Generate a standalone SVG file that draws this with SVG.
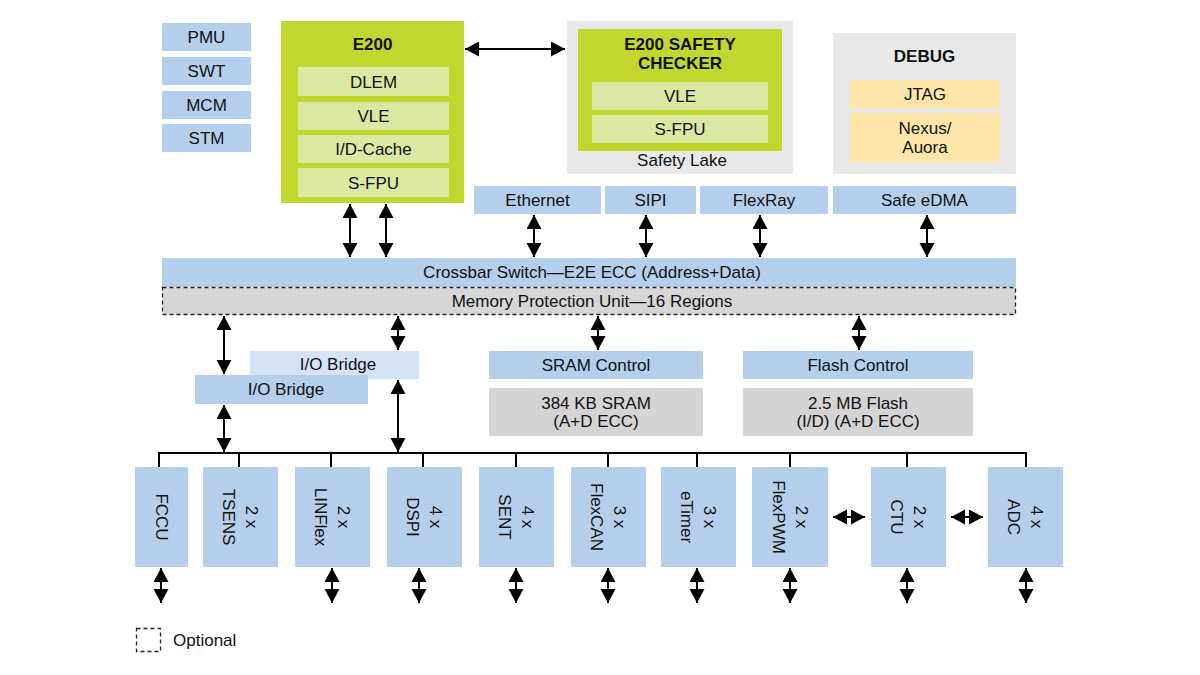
<svg xmlns="http://www.w3.org/2000/svg" width="1200" height="675" viewBox="0 0 1200 675">
<defs>
<style>
text{font-family:"Liberation Sans",Arial,sans-serif;font-size:17px;fill:#111;text-anchor:middle;dominant-baseline:central}
.b{font-weight:bold}
.blue{fill:#b4cfec}
.blue2{fill:#d3e3f5}
.green{fill:#c2d72e}
.lgreen{fill:#dbe8a2}
.lgray{fill:#e8e8e8}
.gray{fill:#d4d4d4}
.yel{fill:#fde6a7}
.arr{stroke:#000;stroke-width:2;fill:none;marker-start:url(#ah);marker-end:url(#ah)}
.ln{stroke:#000;stroke-width:2;fill:none}
</style>
<marker id="ah" markerUnits="userSpaceOnUse" markerWidth="16" markerHeight="16" refX="14" refY="7.5" orient="auto-start-reverse">
<path d="M0,0 L14,7.5 L0,15 z" fill="#000"/>
</marker>
</defs>
<rect width="1200" height="675" fill="#fff"/>

<g id="pmu"><rect class="blue" x="162" y="23" width="89" height="28"/><text x="206.5" y="37">PMU</text></g>
<g id="swt"><rect class="blue" x="162" y="57" width="89" height="28"/><text x="206.5" y="71">SWT</text></g>
<g id="mcm"><rect class="blue" x="162" y="91" width="89" height="28"/><text x="206.5" y="105">MCM</text></g>
<g id="stm"><rect class="blue" x="162" y="124" width="89" height="28"/><text x="206.5" y="138">STM</text></g>

<g id="e200">
<rect class="green" x="281" y="21" width="183" height="182"/>
<text class="b" x="372.5" y="44">E200</text>
<rect class="lgreen" x="298" y="67" width="151" height="29"/><text x="373.5" y="82">DLEM</text>
<rect class="lgreen" x="298" y="102" width="151" height="28"/><text x="373.5" y="116">VLE</text>
<rect class="lgreen" x="298" y="135" width="151" height="28"/><text x="373.5" y="149">I/D-Cache</text>
<rect class="lgreen" x="298" y="168" width="151" height="29"/><text x="373.5" y="183">S-FPU</text>
</g>

<g id="safety-lake">
<rect class="lgray" x="567" y="21" width="226" height="153"/>
<rect class="green" x="578" y="29" width="204" height="122"/>
<text class="b" x="680" y="44">E200 SAFETY</text>
<text class="b" x="680" y="63">CHECKER</text>
<rect class="lgreen" x="592" y="82" width="176" height="28"/><text x="680" y="96">VLE</text>
<rect class="lgreen" x="592" y="115" width="176" height="28"/><text x="680" y="129">S-FPU</text>
<text x="682" y="160">Safety Lake</text>
</g>

<g id="debug">
<rect class="lgray" x="833" y="33" width="183" height="141"/>
<text class="b" x="924.5" y="56">DEBUG</text>
<rect class="yel" x="850" y="80" width="150" height="28"/><text x="925" y="94">JTAG</text>
<rect class="yel" x="850" y="113" width="150" height="49"/><text x="925" y="128">Nexus/</text><text x="925" y="147">Auora</text>
</g>

<g id="ethernet"><rect class="blue" x="474" y="186" width="127" height="28"/><text x="537.5" y="200">Ethernet</text></g>
<g id="sipi"><rect class="blue" x="605" y="186" width="91" height="28"/><text x="650.5" y="200">SIPI</text></g>
<g id="flexray"><rect class="blue" x="700" y="186" width="128" height="28"/><text x="764" y="200">FlexRay</text></g>
<g id="edma"><rect class="blue" x="833" y="186" width="183" height="28"/><text x="924.5" y="200">Safe eDMA</text></g>

<g id="crossbar"><rect class="blue" x="162" y="258" width="854" height="29"/><text x="592" y="272">Crossbar Switch—E2E ECC (Address+Data)</text></g>
<g id="mpu"><rect x="162.5" y="287.5" width="853" height="27" fill="#d6d6d6" stroke="#222" stroke-width="1.3" stroke-dasharray="4,3"/><text x="592" y="301">Memory Protection Unit—16 Regions</text></g>

<g id="io-bridge-2"><rect class="blue2" x="250" y="351" width="169" height="28"/><text x="338" y="364">I/O Bridge</text></g>
<g id="io-bridge-1"><rect class="blue" x="195" y="375" width="173" height="29"/><text x="286" y="389">I/O Bridge</text></g>

<g id="sram-control"><rect class="blue" x="489" y="351" width="214" height="28"/><text x="596" y="365">SRAM Control</text></g>
<g id="sram"><rect class="gray" x="489" y="388" width="214" height="48"/><text x="596" y="403">384 KB SRAM</text><text x="596" y="421">(A+D ECC)</text></g>
<g id="flash-control"><rect class="blue" x="743" y="351" width="230" height="28"/><text x="858" y="365">Flash Control</text></g>
<g id="flash"><rect class="gray" x="743" y="388" width="230" height="48"/><text x="858" y="403">2.5 MB Flash</text><text x="858" y="421">(I/D) (A+D ECC)</text></g>

<g id="fccu"><rect class="blue" x="135" y="467" width="53" height="100"/><text transform="translate(161.5,517) rotate(90)">FCCU</text></g>
<g id="tsens"><rect class="blue" x="203" y="467" width="75" height="100"/><g transform="translate(240.5,517) rotate(90)"><text y="-11">2 x</text><text y="12">TSENS</text></g></g>
<g id="linflex"><rect class="blue" x="295" y="467" width="75" height="100"/><g transform="translate(332.5,517) rotate(90)"><text y="-11">2 x</text><text y="12">LINFlex</text></g></g>
<g id="dspi"><rect class="blue" x="387" y="467" width="75" height="100"/><g transform="translate(424.5,517) rotate(90)"><text y="-11">4 x</text><text y="12">DSPI</text></g></g>
<g id="sent"><rect class="blue" x="479" y="467" width="75" height="100"/><g transform="translate(516.5,517) rotate(90)"><text y="-11">4 x</text><text y="12">SENT</text></g></g>
<g id="flexcan"><rect class="blue" x="571" y="467" width="75" height="100"/><g transform="translate(608.5,517) rotate(90)"><text y="-11">3 x</text><text y="12">FlexCAN</text></g></g>
<g id="etimer"><rect class="blue" x="661" y="467" width="75" height="100"/><g transform="translate(698.5,517) rotate(90)"><text y="-11">3 x</text><text y="12">eTimer</text></g></g>
<g id="flexpwm"><rect class="blue" x="752" y="467" width="76" height="100"/><g transform="translate(790,517) rotate(90)"><text y="-11">2 x</text><text y="12">FlexPWM</text></g></g>
<g id="ctu"><rect class="blue" x="871" y="467" width="75" height="100"/><g transform="translate(908.5,517) rotate(90)"><text y="-11">2 x</text><text y="12">CTU</text></g></g>
<g id="adc"><rect class="blue" x="988" y="467" width="75" height="100"/><g transform="translate(1025.5,517) rotate(90)"><text y="-11">4 x</text><text y="12">ADC</text></g></g>

<g id="legend"><rect x="136.5" y="628.5" width="24" height="23" fill="none" stroke="#222" stroke-width="1.3" stroke-dasharray="4,3"/><text x="173" y="640" style="text-anchor:start">Optional</text></g>

<g id="connectors">
<line class="arr" x1="465" y1="49" x2="565" y2="49"/>
<line class="arr" x1="350" y1="204" x2="350" y2="257"/>
<line class="arr" x1="386" y1="204" x2="386" y2="257"/>
<line class="arr" x1="534" y1="215" x2="534" y2="257"/>
<line class="arr" x1="646" y1="215" x2="646" y2="257"/>
<line class="arr" x1="760" y1="215" x2="760" y2="257"/>
<line class="arr" x1="927" y1="215" x2="927" y2="257"/>
<line class="arr" x1="224" y1="316" x2="224" y2="374"/>
<line class="arr" x1="398" y1="316" x2="398" y2="350"/>
<line class="arr" x1="598" y1="316" x2="598" y2="350"/>
<line class="arr" x1="859" y1="316" x2="859" y2="350"/>
<line class="arr" x1="224" y1="405" x2="224" y2="452"/>
<line class="arr" x1="398" y1="380" x2="398" y2="452"/>
<path class="ln" d="M159,467 V453 H1026 V467 M239,453 V467 M331,453 V467 M423,453 V467 M516,453 V467 M608,453 V467 M697,453 V467 M790,453 V467 M907,453 V467"/>
<line class="arr" x1="161" y1="568" x2="161" y2="603"/>
<line class="arr" x1="332" y1="568" x2="332" y2="603"/>
<line class="arr" x1="419" y1="568" x2="419" y2="603"/>
<line class="arr" x1="516" y1="568" x2="516" y2="603"/>
<line class="arr" x1="608" y1="568" x2="608" y2="603"/>
<line class="arr" x1="697" y1="568" x2="697" y2="603"/>
<line class="arr" x1="790" y1="568" x2="790" y2="603"/>
<line class="arr" x1="907" y1="568" x2="907" y2="603"/>
<line class="arr" x1="1026" y1="568" x2="1026" y2="603"/>
<line class="arr" x1="833" y1="517" x2="865" y2="517"/>
<line class="arr" x1="951" y1="517" x2="983" y2="517"/>
</g>
</svg>
